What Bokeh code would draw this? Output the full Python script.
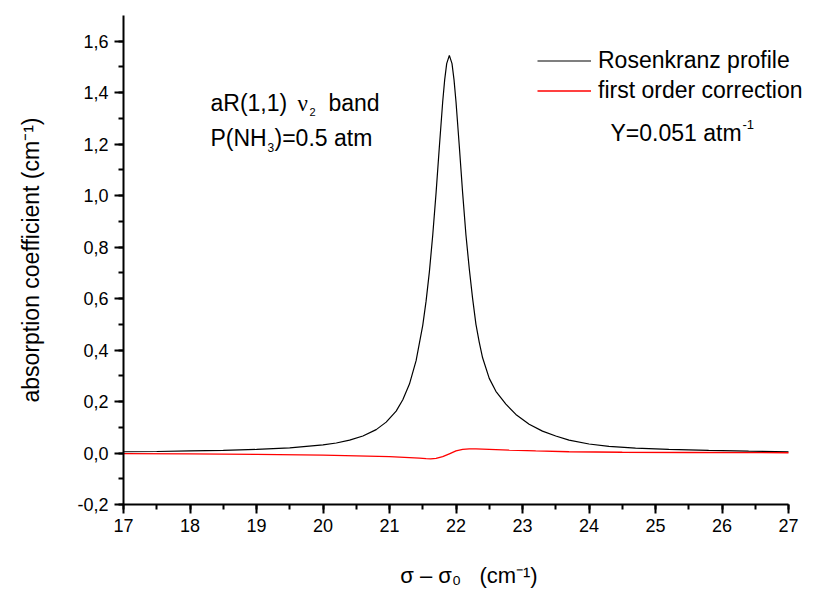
import math
from bokeh.plotting import figure
from bokeh.models import (FixedTicker, CustomJSTickFormatter, Label, Legend,
                          LegendItem, Range1d)
from bokeh.embed import file_html
from bokeh.resources import INLINE

# ---------------- data ----------------
x_rosenkranz = [17.0, 17.5, 18.0, 18.5, 19.0, 19.5, 20.0, 20.2, 20.4, 20.6,
                20.8, 20.95, 21.1, 21.2, 21.3, 21.4, 21.5, 21.55, 21.6, 21.65,
                21.7, 21.75, 21.8, 21.83, 21.86, 21.9, 21.94, 21.97, 22.0, 22.05,
                22.1, 22.15, 22.2, 22.25, 22.3, 22.35, 22.4, 22.5, 22.6, 22.75,
                22.9, 23.1, 23.3, 23.5, 23.7, 24.0, 24.3, 24.7, 25.2, 25.8,
                26.4, 27.0]
y_rosenkranz = [0.005, 0.006, 0.008, 0.010, 0.014, 0.020, 0.032, 0.039, 0.050, 0.066,
                0.091, 0.120, 0.163, 0.207, 0.268, 0.359, 0.496, 0.590, 0.705, 0.846,
                1.010, 1.191, 1.365, 1.451, 1.513, 1.545, 1.513, 1.451, 1.365, 1.191,
                1.010, 0.846, 0.715, 0.600, 0.500, 0.430, 0.370, 0.290, 0.240, 0.190,
                0.150, 0.112, 0.085, 0.066, 0.050, 0.035, 0.026, 0.019, 0.014, 0.010,
                0.007, 0.005]

x_correction = [17.0, 18.0, 19.0, 20.0, 20.5, 21.0, 21.3, 21.45, 21.55, 21.62,
                21.7, 21.8, 21.9, 22.0, 22.1, 22.2, 22.3, 22.5, 22.8, 23.2,
                23.7, 24.5, 25.5, 27.0]
y_correction = [-0.002, -0.003, -0.005, -0.008, -0.011, -0.014, -0.018, -0.020, -0.022, -0.023,
                -0.021, -0.014, -0.003, 0.008, 0.014, 0.016, 0.016, 0.014, 0.011, 0.008,
                0.005, 0.003, 0.002, 0.001]

x_major = [17, 18, 19, 20, 21, 22, 23, 24, 25, 26, 27]
y_major = [-0.2, 0.0, 0.2, 0.4, 0.6, 0.8, 1.0, 1.2, 1.4, 1.6]
x_axis_lim = (17, 27)
y_axis_lim = (-0.2, 1.70)

legend_labels = ["Rosenkranz profile", "first order correction"]
x_title = "\u03c3 \u2013 \u03c3\u2080\u00a0\u00a0\u00a0(cm\u207b\u00b9)"
y_title = "absorption coefficient (cm\u207b\u00b9)"

# ---------------- layout ----------------
W, H = 814, 590
L, T, B = 123, 15, 85
AXIS_RIGHT_PX = 788          # where the x axis ends (x = 27)
X0, XA = x_axis_lim
Y0, Y1 = y_axis_lim
PX_PER_X = (AXIS_RIGHT_PX - L) / (XA - X0)
X1 = X0 + (W - L) / PX_PER_X  # frame runs to the right edge so texts are not clipped


def dx(px):
    return X0 + (px - L) / PX_PER_X


def dy(py):
    return Y0 + (H - B - py) * (Y1 - Y0) / (H - T - B)


p = figure(width=W, height=H, x_range=Range1d(X0, X1), y_range=Range1d(Y0, Y1),
           output_backend="svg", toolbar_location=None, title=None,
           min_border_left=L, min_border_right=0, min_border_top=T, min_border_bottom=B)
p.grid.visible = False
p.outline_line_color = None
p.background_fill_color = "white"
p.border_fill_color = "white"

x_minor = sorted(set([a + 0.5 for a in x_major[:-1]] + x_major))
y_minor = sorted(set([round(a + 0.1, 2) for a in y_major[:-1]] + y_major))

p.xaxis.ticker = FixedTicker(ticks=x_major, minor_ticks=x_minor)
p.yaxis.ticker = FixedTicker(ticks=y_major, minor_ticks=y_minor)
p.xaxis.bounds = x_axis_lim
p.xaxis.formatter = CustomJSTickFormatter(code="return tick.toFixed(0);")
p.yaxis.formatter = CustomJSTickFormatter(code="return tick.toFixed(1).replace('.', ',');")

for ax in (p.xaxis[0], p.yaxis[0]):
    ax.axis_line_width = 2
    ax.axis_line_color = "black"
    ax.major_tick_line_width = 2
    ax.minor_tick_line_width = 2
    ax.major_tick_line_color = "black"
    ax.minor_tick_line_color = "black"
    ax.major_tick_out = 9
    ax.major_tick_in = 0
    ax.minor_tick_out = 5
    ax.minor_tick_in = 0
    ax.major_label_text_font = "Liberation Sans"
    ax.major_label_text_font_size = "18px"
    ax.major_label_text_color = "black"
    ax.axis_label_text_font = "Liberation Sans"
    ax.axis_label_text_font_style = "normal"
    ax.axis_label_text_color = "black"
p.xaxis.major_label_standoff = 5
p.yaxis.major_label_standoff = 6

p.xaxis.axis_label = x_title
p.xaxis.axis_label_text_font_size = "22px"
p.xaxis.axis_label_standoff = 28
p.yaxis.axis_label = y_title
p.yaxis.axis_label_text_font_size = "23px"
p.yaxis.axis_label_standoff = 30

r_black = p.line(x_rosenkranz, y_rosenkranz, line_color="black", line_width=1.2)
r_red = p.line(x_correction, y_correction, line_color="#ff0000", line_width=1.3)

legend = Legend(items=[LegendItem(label=legend_labels[0], renderers=[r_black]),
                       LegendItem(label=legend_labels[1], renderers=[r_red])],
                location=(414, 399), padding=0, margin=0, spacing=1,
                glyph_width=54, glyph_height=29, label_height=29, label_standoff=7,
                label_text_font="Liberation Sans", label_text_font_size="23px",
                label_text_color="black",
                background_fill_alpha=0, border_line_alpha=0)
p.add_layout(legend)


def lab(px, py, text, size, font="Liberation Sans", angle=0.0):
    p.add_layout(Label(x=dx(px), y=dy(py), text=text, text_font=font,
                       text_font_size=size, text_color="black",
                       text_align="left", text_baseline="alphabetic", angle=angle))


# annotations inside the plot
lab(210, 103, "aR(1,1)", "23px")
lab(297, 103, "\u03bd", "23px", font="Liberation Serif")
lab(309, 112, "2", "11px")
lab(328, 103, "band", "23px")

lab(210, 138, "P(NH", "23px")
lab(267, 147, "3", "12px")
lab(274, 138, ")=0.5 atm", "23px")

lab(610, 133, "Y=0.051 atm", "23px")
lab(742, 124, "-1", "13px")

open("out.html", "w").write(file_html(p, INLINE))
